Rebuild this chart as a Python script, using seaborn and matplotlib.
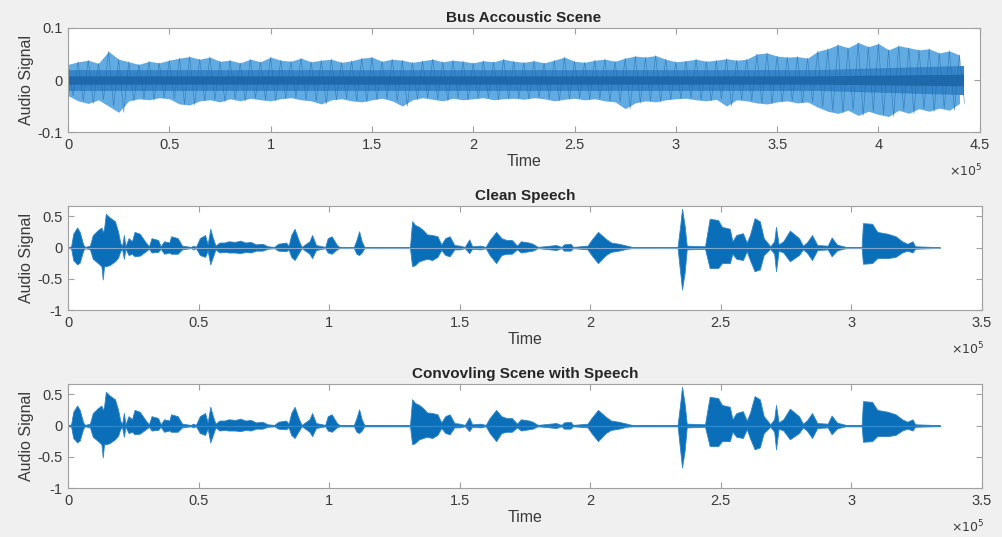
import numpy as np
import matplotlib
matplotlib.use("Agg")
import matplotlib.pyplot as plt
import seaborn as sns
from matplotlib.ticker import FuncFormatter

# time axis is in units of 1e5 samples (shown as x10^5 like the MATLAB plot)

# --- Bus acoustic scene: peak envelope read every 0.05e5 samples ---
noise_t = np.round(np.arange(0, 4.401, 0.05), 2)
noise_hi = [0.030, 0.035, 0.038, 0.032, 0.055, 0.040, 0.035, 0.030, 0.036, 0.033,
            0.038, 0.042, 0.045, 0.040, 0.044, 0.036, 0.038, 0.033, 0.040, 0.035,
            0.044, 0.038, 0.036, 0.042, 0.035, 0.038, 0.040, 0.034, 0.037, 0.042,
            0.044, 0.036, 0.040, 0.038, 0.034, 0.037, 0.040, 0.035, 0.038, 0.036,
            0.033, 0.037, 0.035, 0.040, 0.036, 0.034, 0.037, 0.033, 0.038, 0.044,
            0.036, 0.034, 0.038, 0.040, 0.036, 0.042, 0.046, 0.044, 0.047, 0.040,
            0.035, 0.037, 0.040, 0.036, 0.038, 0.041, 0.038, 0.040, 0.050, 0.052,
            0.046, 0.044, 0.045, 0.042, 0.055, 0.060, 0.068, 0.062, 0.072, 0.064,
            0.070, 0.058, 0.066, 0.062, 0.058, 0.060, 0.052, 0.056, 0.048]
noise_lo = [-0.030, -0.040, -0.045, -0.038, -0.050, -0.062, -0.040, -0.036, -0.038, -0.034,
            -0.036, -0.046, -0.048, -0.040, -0.038, -0.042, -0.036, -0.040, -0.035, -0.038,
            -0.040, -0.036, -0.034, -0.038, -0.040, -0.046, -0.038, -0.036, -0.040, -0.042,
            -0.038, -0.035, -0.040, -0.050, -0.038, -0.034, -0.037, -0.040, -0.035, -0.038,
            -0.036, -0.034, -0.038, -0.036, -0.035, -0.037, -0.034, -0.036, -0.040, -0.037,
            -0.035, -0.038, -0.036, -0.040, -0.042, -0.055, -0.044, -0.040, -0.042, -0.038,
            -0.036, -0.035, -0.038, -0.040, -0.037, -0.050, -0.038, -0.040, -0.044, -0.046,
            -0.042, -0.040, -0.044, -0.042, -0.052, -0.060, -0.064, -0.058, -0.068, -0.060,
            -0.066, -0.070, -0.058, -0.064, -0.055, -0.060, -0.054, -0.058, -0.045]
# bands inside the envelope: medium-blue body and dark centre
noise_band_t = [0.0, 3.70, 4.42]
noise_body = [0.020, 0.020, 0.028]
noise_core = [0.008, 0.008, 0.011]

# --- Clean speech: envelope breakpoints (time, upper, lower) ---
speech_t = [0.000, 0.012, 0.020, 0.035, 0.045, 0.058, 0.065, 0.084, 0.095, 0.115,
            0.128, 0.133, 0.138, 0.145, 0.160, 0.180, 0.192, 0.200, 0.207, 0.214,
            0.220, 0.232, 0.245, 0.255, 0.275, 0.298, 0.310, 0.320, 0.345, 0.355,
            0.368, 0.388, 0.395, 0.420, 0.437, 0.470, 0.480, 0.490, 0.505, 0.525,
            0.535, 0.545, 0.555, 0.565, 0.580, 0.600, 0.615, 0.640, 0.660, 0.680,
            0.700, 0.720, 0.745, 0.765, 0.790, 0.805, 0.835, 0.845, 0.855, 0.868,
            0.885, 0.895, 0.925, 0.935, 0.950, 0.985, 0.995, 1.010, 1.030, 1.040,
            1.095, 1.105, 1.115, 1.125, 1.135, 1.310, 1.318, 1.330, 1.345, 1.360,
            1.375, 1.395, 1.415, 1.430, 1.445, 1.462, 1.480, 1.500, 1.520, 1.537,
            1.548, 1.580, 1.600, 1.615, 1.640, 1.660, 1.680, 1.700, 1.720, 1.735,
            1.765, 1.780, 1.800, 1.870, 1.890, 1.900, 1.925, 1.935, 1.990, 2.005,
            2.030, 2.060, 2.080, 2.110, 2.140, 2.160, 2.335, 2.345, 2.352, 2.362,
            2.370, 2.440, 2.458, 2.490, 2.505, 2.535, 2.545, 2.560, 2.585, 2.600,
            2.612, 2.630, 2.650, 2.665, 2.690, 2.705, 2.712, 2.722, 2.740, 2.765,
            2.800, 2.815, 2.830, 2.850, 2.870, 2.910, 2.925, 2.945, 2.960, 2.980,
            3.040, 3.045, 3.080, 3.100, 3.140, 3.170, 3.195, 3.215, 3.235, 3.245,
            3.340]
speech_hi = [0.00, 0.02, 0.22, 0.32, 0.25, 0.05, 0.01, 0.03, 0.20, 0.28,
             0.32, 0.25, 0.30, 0.54, 0.48, 0.42, 0.25, 0.08, 0.02, 0.20,
             0.02, 0.15, 0.10, 0.25, 0.22, 0.08, 0.02, 0.15, 0.12, 0.02,
             0.10, 0.08, 0.18, 0.15, 0.03, 0.01, 0.03, 0.01, 0.15, 0.20,
             0.05, 0.30, 0.15, 0.03, 0.08, 0.08, 0.10, 0.09, 0.11, 0.08,
             0.09, 0.05, 0.06, 0.02, 0.01, 0.06, 0.08, 0.03, 0.20, 0.30,
             0.10, 0.01, 0.10, 0.20, 0.04, 0.01, 0.15, 0.18, 0.04, 0.01,
             0.01, 0.12, 0.26, 0.10, 0.01, 0.01, 0.42, 0.36, 0.33, 0.28,
             0.21, 0.20, 0.18, 0.05, 0.15, 0.18, 0.04, 0.03, 0.01, 0.13,
             0.02, 0.03, 0.01, 0.12, 0.25, 0.15, 0.12, 0.12, 0.03, 0.10,
             0.08, 0.06, 0.01, 0.04, 0.01, 0.05, 0.06, 0.01, 0.03, 0.12,
             0.25, 0.14, 0.08, 0.06, 0.03, 0.01, 0.01, 0.35, 0.62, 0.35,
             0.03, 0.02, 0.46, 0.44, 0.33, 0.30, 0.10, 0.20, 0.23, 0.08,
             0.20, 0.47, 0.42, 0.15, 0.02, 0.10, 0.33, 0.05, 0.10, 0.27,
             0.15, 0.03, 0.08, 0.20, 0.04, 0.03, 0.16, 0.05, 0.03, 0.01,
             0.01, 0.39, 0.38, 0.25, 0.22, 0.18, 0.10, 0.06, 0.10, 0.02,
             0.005]
speech_lo = [0.00, -0.02, -0.20, -0.27, -0.24, -0.05, -0.01, -0.03, -0.18, -0.25,
             -0.30, -0.51, -0.30, -0.30, -0.28, -0.22, -0.16, -0.06, -0.02, -0.18,
             -0.02, -0.12, -0.10, -0.14, -0.13, -0.06, -0.02, -0.08, -0.07, -0.02,
             -0.10, -0.08, -0.10, -0.10, -0.03, -0.01, -0.03, -0.01, -0.12, -0.15,
             -0.05, -0.27, -0.15, -0.03, -0.08, -0.07, -0.08, -0.08, -0.09, -0.07,
             -0.08, -0.05, -0.05, -0.02, -0.01, -0.05, -0.06, -0.03, -0.15, -0.20,
             -0.08, -0.01, -0.10, -0.17, -0.04, -0.01, -0.08, -0.10, -0.03, -0.01,
             -0.01, -0.10, -0.12, -0.08, -0.01, -0.01, -0.30, -0.28, -0.22, -0.20,
             -0.18, -0.20, -0.15, -0.04, -0.12, -0.14, -0.03, -0.03, -0.01, -0.09,
             -0.02, -0.03, -0.01, -0.12, -0.25, -0.12, -0.10, -0.10, -0.03, -0.08,
             -0.06, -0.05, -0.01, -0.04, -0.01, -0.05, -0.05, -0.01, -0.03, -0.12,
             -0.25, -0.12, -0.07, -0.05, -0.02, -0.01, -0.01, -0.40, -0.67, -0.40,
             -0.03, -0.02, -0.33, -0.33, -0.25, -0.25, -0.10, -0.18, -0.20, -0.06,
             -0.20, -0.38, -0.35, -0.12, -0.02, -0.10, -0.38, -0.05, -0.08, -0.22,
             -0.12, -0.03, -0.08, -0.20, -0.04, -0.03, -0.14, -0.05, -0.03, -0.01,
             -0.01, -0.26, -0.25, -0.17, -0.17, -0.15, -0.08, -0.05, -0.08, -0.02,
             -0.005]

# convolved signal looks like the speech with a thin noise floor
conv_floor_t = [0.0, 3.34]
conv_floor = [0.015, 0.015]


def style_axes(ax, xmax, ylim, yticks, ylabels):
    ax.set_facecolor("white")
    ax.set_xlim(0, xmax)
    ax.set_ylim(*ylim)
    ax.set_xticks(np.arange(0, xmax + 0.01, 0.5))
    ax.xaxis.set_major_formatter(FuncFormatter(lambda v, p: f"{v:g}"))
    ax.set_yticks(yticks)
    ax.set_yticklabels(ylabels)
    for s in ax.spines.values():
        s.set_visible(True)
        s.set_color("#a0a0a0")
        s.set_linewidth(0.8)
    ax.tick_params(direction="in", top=True, right=True, length=4, width=0.8,
                   color="#a0a0a0", labelcolor="#3a3a3a", labelsize=10.5, pad=4)
    ax.set_xlabel("Time", fontsize=11.5, color="#3a3a3a", labelpad=2)
    ax.set_ylabel("Audio Signal", fontsize=11.5, color="#3a3a3a", labelpad=2)
    ax.annotate(r"$\times10^{5}$", xy=(0.985, -0.37), xycoords="axes fraction",
                ha="center", va="center", fontsize=9, color="#3a3a3a")


def plot_speech(ax, floor_t, floor_amp, floor_color, floor_lw):
    lo = [-a for a in floor_amp]
    ax.fill_between(floor_t, lo, floor_amp, color=floor_color, lw=0)
    sns.lineplot(x=floor_t, y=[0, 0], ax=ax, color=floor_color, lw=floor_lw)
    ax.fill_between(speech_t, speech_lo, speech_hi, color="#0a6fb8", lw=0.6,
                    edgecolor="#2f86c8")


sns.set_theme(style="ticks")
plt.rcParams["font.family"] = ["Liberation Sans", "DejaVu Sans"]
plt.rcParams["axes.unicode_minus"] = False

fig = plt.figure(figsize=(10.03, 5.37), dpi=100, facecolor="#f0f0f0")
ax1 = fig.add_axes([0.0678, 0.754, 0.909, 0.194])
ax2 = fig.add_axes([0.0678, 0.4227, 0.911, 0.194])
ax3 = fig.add_axes([0.0678, 0.0912, 0.911, 0.194])

# bus scene: ragged envelope, darker body, oscillating trace on top
ax1.fill_between(noise_t, noise_lo, noise_hi, color="#62abe2", lw=0)
body_lo = [-c for c in noise_body]
ax1.fill_between(noise_band_t, body_lo, noise_body, color="#3585c8", lw=0)
core_lo = [-c for c in noise_core]
ax1.fill_between(noise_band_t, core_lo, noise_core, color="#1f68aa", lw=0)
zig_t = np.ravel(np.column_stack([noise_t, noise_t + 0.025]))
zig_y = np.ravel(np.column_stack([noise_hi, noise_lo]))
sns.lineplot(x=zig_t, y=zig_y, ax=ax1, color="#1b67ab", lw=0.5, alpha=0.6, sort=False)
style_axes(ax1, 4.5, (-0.1, 0.1), [-0.1, 0, 0.1], ["-0.1", "0", "0.1"])
ax1.set_title("Bus Accoustic Scene", fontsize=11, fontweight="bold", pad=4)

# clean speech
plot_speech(ax2, [0.0, 3.34], [0.003, 0.003], "#7fa9cc", 0.8)
style_axes(ax2, 3.5, (-1, 0.667), [-1, -0.5, 0, 0.5], ["-1", "-0.5", "0", "0.5"])
ax2.set_title("Clean Speech", fontsize=11, fontweight="bold", pad=4)

# convolved
plot_speech(ax3, conv_floor_t, conv_floor, "#2f86c8", 1.0)
style_axes(ax3, 3.5, (-1, 0.667), [-1, -0.5, 0, 0.5], ["-1", "-0.5", "0", "0.5"])
ax3.set_title("Convovling Scene with Speech", fontsize=11, fontweight="bold", pad=4)

fig.savefig("out.png", dpi=100, facecolor=fig.get_facecolor())
